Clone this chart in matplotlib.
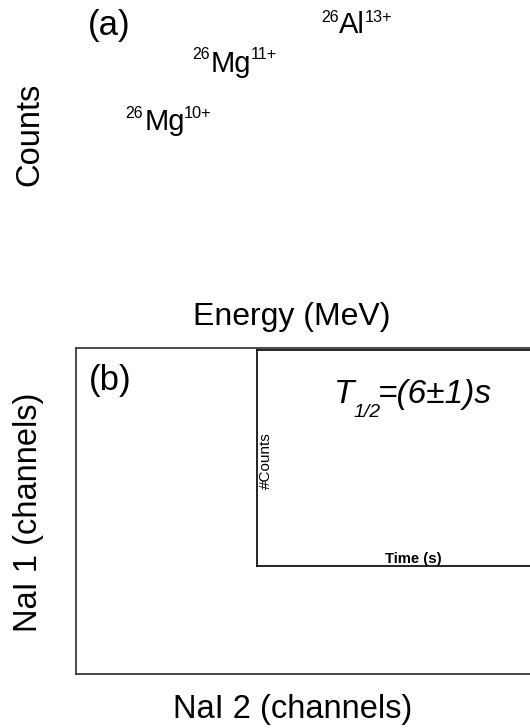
import matplotlib
matplotlib.use("Agg")
import matplotlib.pyplot as plt

plt.rcParams['font.family'] = ['Liberation Sans', 'DejaVu Sans']

W, H = 530, 728
DPI = 100

# ---- data ----
ion_masses = ["26", "26", "26"]
ion_elements = ["Mg", "Mg", "Al"]
ion_charges = ["10+", "11+", "13+"]
half_life = 6
half_life_err = 1
panel_a_xlabel = "Energy (MeV)"
panel_a_ylabel = "Counts"
panel_b_xlabel = "NaI 2 (channels)"
panel_b_ylabel = "NaI 1 (channels)"
inset_xlabel = "Time (s)"
inset_ylabel = "#Counts"

# ---- layout (pixel positions, top-left origin) ----
# (sup-left x, sup baseline, main-left x, main baseline, charge-left x)
ion_layout = [(125, 118, 145, 130, 184),
              (192, 59, 211, 72, 251),
              (321, 22, 339, 33, 365)]

fig = plt.figure(figsize=(W / DPI, H / DPI), dpi=DPI)


def fx(x):
    return x / W


def fy(y):
    return 1 - y / H


# Panel (a): frameless axes
ax_a = fig.add_axes([fx(76), fy(290), fx(530) - fx(76), fy(5) - fy(290)])
ax_a.set_axis_off()
fig.text(fx(88), fy(35), "(a)", fontsize=25, ha='left', va='baseline')
fig.text(fx(193), fy(325), panel_a_xlabel, fontsize=23, ha='left', va='baseline')
fig.text(fx(30), fy(134), panel_a_ylabel, fontsize=23.5, rotation=90,
         ha='center', va='center')

for (m, e, c), (sx, sb, mx, mb, cx) in zip(zip(ion_masses, ion_elements, ion_charges), ion_layout):
    fig.text(fx(sx), fy(sb), m, fontsize=11.5, ha='left', va='baseline')
    fig.text(fx(mx), fy(mb), e, fontsize=21, ha='left', va='baseline')
    fig.text(fx(cx), fy(sb), c, fontsize=11.8, ha='left', va='baseline')

# Panel (b): main 2D axes (extends beyond right figure edge)
ax_b = fig.add_axes([fx(76), fy(674), 1.2, fy(348) - fy(674)])
ax_b.set_xticks([])
ax_b.set_yticks([])
for s in ax_b.spines.values():
    s.set_color('#3c3c3c')
    s.set_linewidth(1.3)
fig.text(fx(89), fy(390), "(b)", fontsize=25, ha='left', va='baseline')
fig.text(fx(173), fy(718), panel_b_xlabel, fontsize=23.5, ha='left', va='baseline')
fig.text(fx(28.5), fy(512.5), panel_b_ylabel, fontsize=23.5, rotation=90,
         ha='center', va='center')

# Inset: decay curve axes
ax_in = fig.add_axes([fx(257), fy(566), 1.2, fy(350) - fy(566)])
ax_in.set_xticks([])
ax_in.set_yticks([])
for s in ax_in.spines.values():
    s.set_color('black')
    s.set_linewidth(1.2)
fig.text(fx(385), fy(563), inset_xlabel, fontsize=10.7, fontweight='bold',
         ha='left', va='baseline')
fig.text(fx(266), fy(461), inset_ylabel, fontsize=11, rotation=90,
         ha='center', va='center')

fig.text(fx(334), fy(403), "T", fontsize=24, style='italic', ha='left', va='baseline')
fig.text(fx(353), fy(417), "1/2", fontsize=14, style='italic', ha='left', va='baseline')
fig.text(fx(378), fy(403), f"=({half_life}\u00b1{half_life_err})s", fontsize=24,
         style='italic', ha='left', va='baseline')

fig.savefig("out.png", dpi=DPI)
